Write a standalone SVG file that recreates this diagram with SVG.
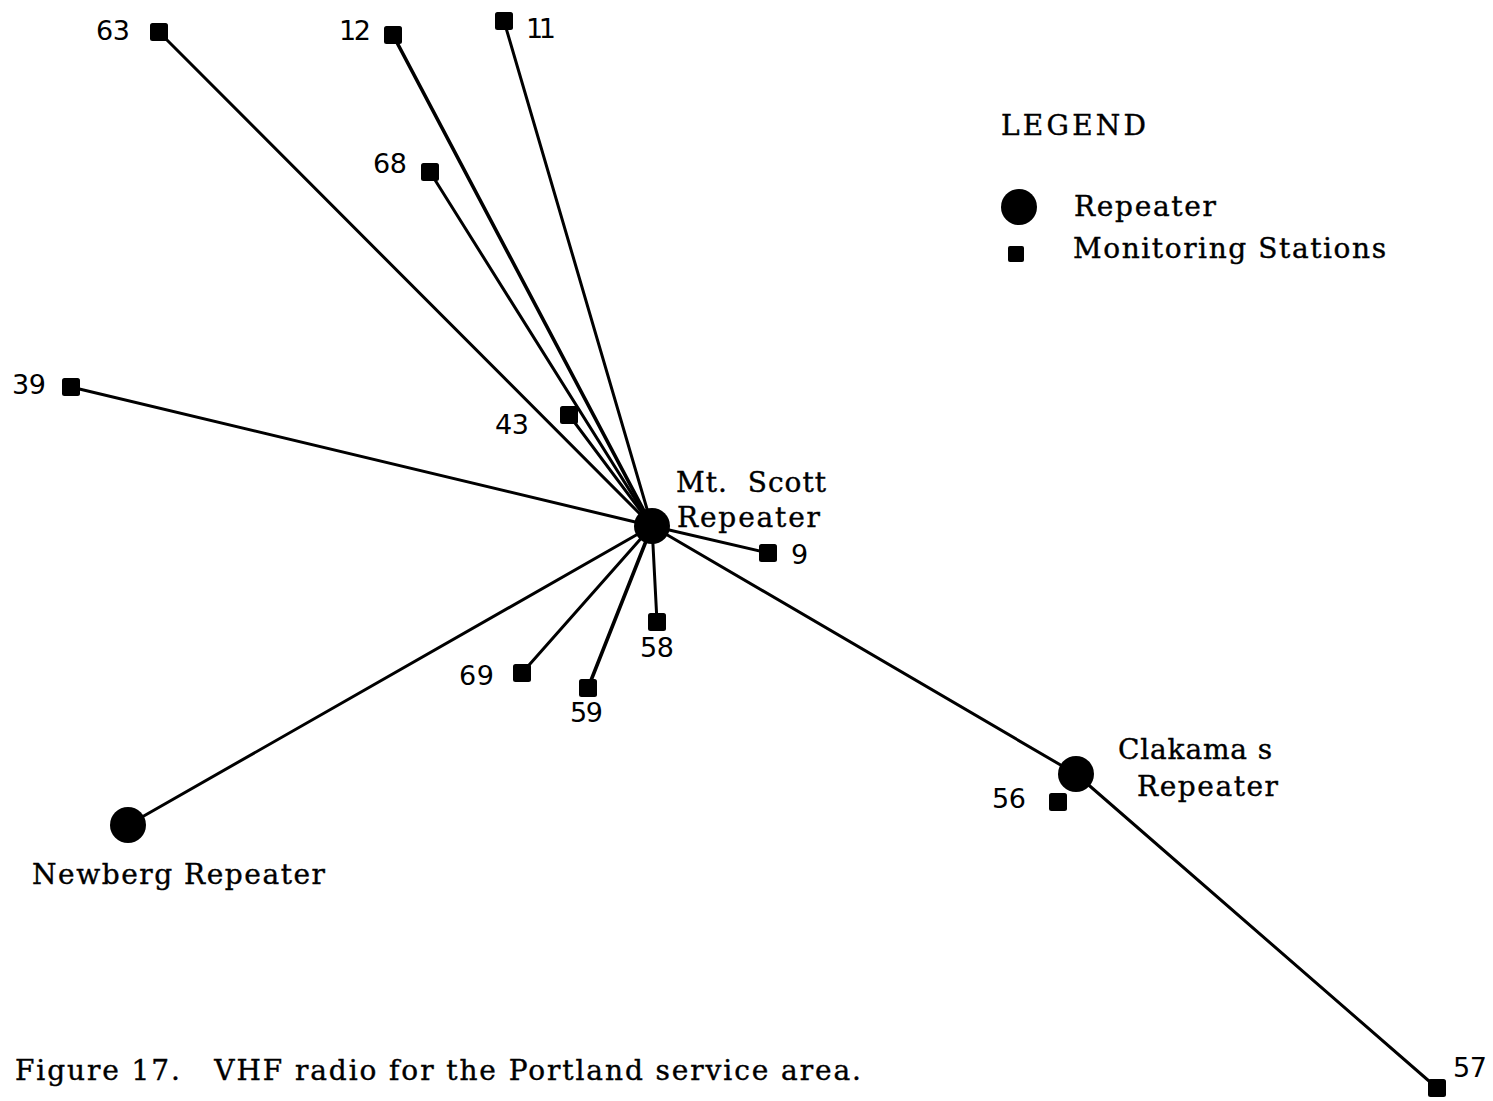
<svg xmlns="http://www.w3.org/2000/svg" width="1493" height="1101" viewBox="0 0 1493 1101">
  <style>
    .link { stroke: #000; stroke-width: 3; fill: none; stroke-linecap: round; }
    .thick { stroke-width: 3.6; }
    .repeater { fill: #000; }
    .label { font-family: "DejaVu Serif", "Liberation Serif", serif; font-size: 28px; fill: #000; stroke: #000; stroke-width: 0.4; white-space: pre; }
    .num { font-family: "DejaVu Sans", "Liberation Sans", sans-serif; font-size: 27px; fill: #000; }
  </style>
  <defs>
    <rect id="sq" x="-9" y="-9" width="18" height="18" rx="2.5"/>
  </defs>

  <rect width="1493" height="1101" fill="#fff"/>

  <!-- links from each station to its repeater -->
  <g id="connectors">
    <line class="link" x1="159" y1="32" x2="652" y2="526"/>
    <line class="link thick" x1="393" y1="35" x2="652" y2="526"/>
    <line class="link" x1="504" y1="21" x2="652" y2="526"/>
    <line class="link" x1="430" y1="172" x2="652" y2="526"/>
    <line class="link" x1="71" y1="387" x2="652" y2="526"/>
    <line class="link" x1="569" y1="415" x2="652" y2="526"/>
    <line class="link" x1="768" y1="553" x2="652" y2="526"/>
    <line class="link" x1="657" y1="622" x2="652" y2="526"/>
    <line class="link" x1="522" y1="673" x2="652" y2="526"/>
    <line class="link thick" x1="588" y1="688" x2="652" y2="526"/>
    <line class="link" x1="128" y1="825" x2="652" y2="526"/>
    <line class="link" x1="652" y1="526" x2="1076" y2="774"/>
    <line class="link" x1="1076" y1="774" x2="1437" y2="1088"/>
  </g>

  <!-- repeaters -->
  <g id="mt-scott">
    <circle class="repeater" cx="652" cy="526" r="18"/>
    <text class="label" x="676" y="492" textLength="150" lengthAdjust="spacing">Mt.  Scott</text>
    <text class="label" x="677" y="527" textLength="143" lengthAdjust="spacing">Repeater</text>
  </g>
  <g id="clakamas">
    <circle class="repeater" cx="1076" cy="774" r="18"/>
    <text class="label" x="1118" y="759" textLength="154" lengthAdjust="spacing">Clakama s</text>
    <text class="label" x="1137" y="796" textLength="141" lengthAdjust="spacing">Repeater</text>
  </g>
  <g id="newberg">
    <circle class="repeater" cx="128" cy="825" r="18"/>
    <text class="label" x="32" y="884" textLength="293" lengthAdjust="spacing">Newberg Repeater</text>
  </g>

  <!-- monitoring stations -->
  <g id="s63"><use href="#sq" x="159" y="32"/><text class="num" x="96" y="40" textLength="34">63</text></g>
  <g id="s12"><use href="#sq" x="393" y="35"/><text class="num" x="339" y="40" textLength="32">12</text></g>
  <g id="s11"><use href="#sq" x="504" y="21"/><text class="num" x="526" y="38" textLength="30">11</text></g>
  <g id="s68"><use href="#sq" x="430" y="172"/><text class="num" x="373" y="173" textLength="34">68</text></g>
  <g id="s39"><use href="#sq" x="71" y="387"/><text class="num" x="12" y="394" textLength="34">39</text></g>
  <g id="s43"><use href="#sq" x="569" y="415"/><text class="num" x="495" y="434" textLength="34">43</text></g>
  <g id="s9"><use href="#sq" x="768" y="553"/><text class="num" x="791" y="564">9</text></g>
  <g id="s58"><use href="#sq" x="657" y="622"/><text class="num" x="640" y="657" textLength="34">58</text></g>
  <g id="s69"><use href="#sq" x="522" y="673"/><text class="num" x="459" y="685" textLength="35">69</text></g>
  <g id="s59"><use href="#sq" x="588" y="688"/><text class="num" x="570" y="722" textLength="33">59</text></g>
  <g id="s56"><use href="#sq" x="1058" y="802"/><text class="num" x="992" y="808" textLength="34">56</text></g>
  <g id="s57"><use href="#sq" x="1437" y="1088"/><text class="num" x="1453" y="1077" textLength="34">57</text></g>

  <!-- legend -->
  <g id="legend">
    <text class="label" x="1001" y="135" textLength="145" lengthAdjust="spacing">LEGEND</text>
    <circle class="repeater" cx="1019" cy="207" r="18"/>
    <text class="label" x="1074" y="216" textLength="142" lengthAdjust="spacing">Repeater</text>
    <rect x="1008" y="246" width="16" height="16" rx="2"/>
    <text class="label" x="1073" y="258" textLength="313" lengthAdjust="spacing">Monitoring Stations</text>
  </g>

  <!-- caption -->
  <text id="caption" class="label" x="15" y="1080" textLength="846" lengthAdjust="spacing">Figure 17.   VHF radio for the Portland service area.</text>
</svg>
